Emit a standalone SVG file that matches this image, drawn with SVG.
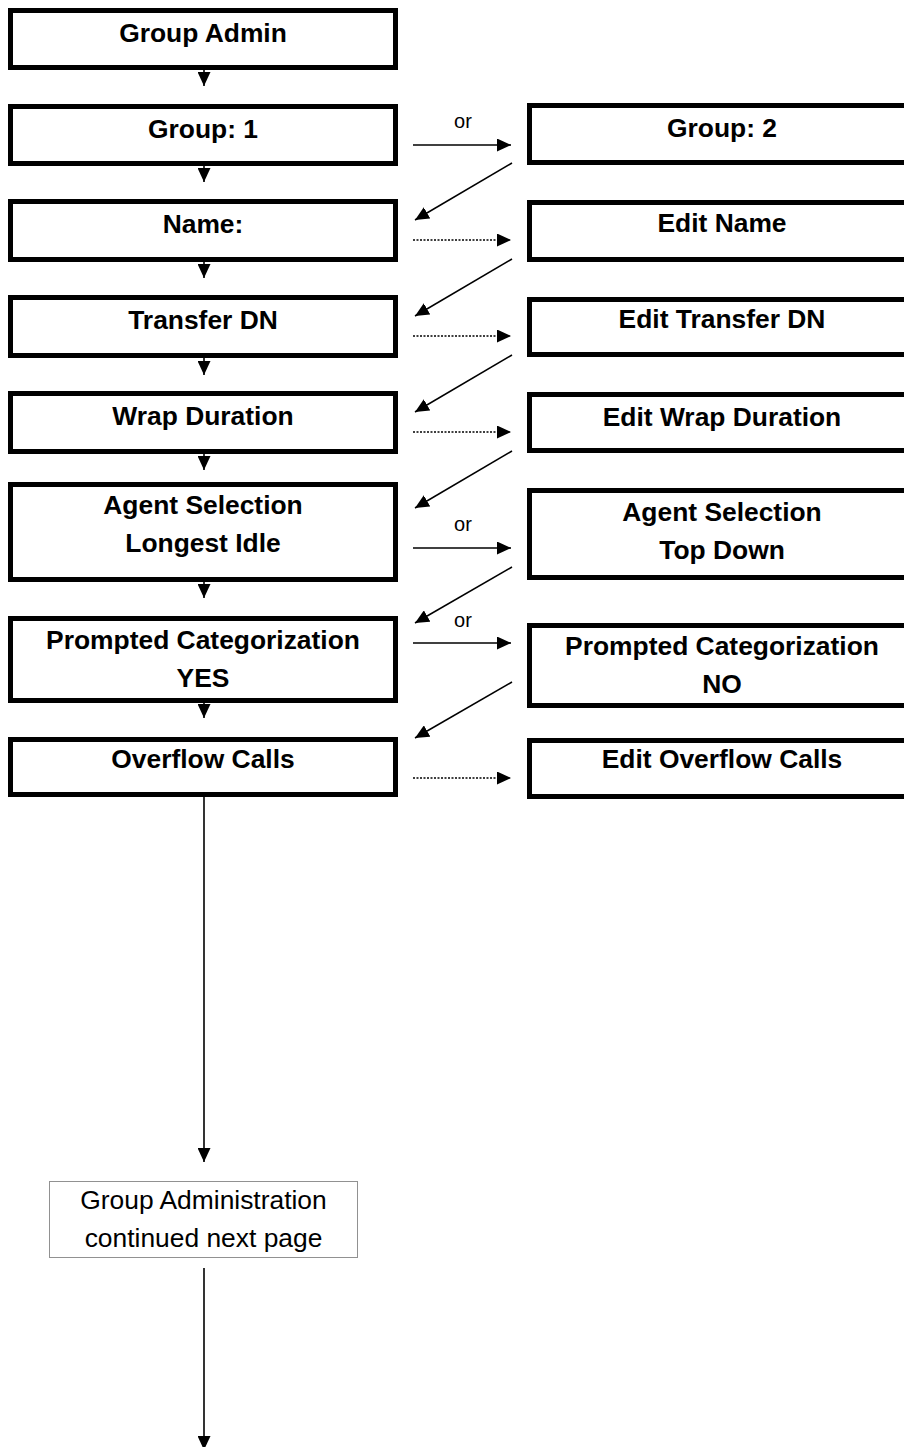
<svg xmlns="http://www.w3.org/2000/svg" width="904" height="1447" viewBox="0 0 904 1447">
<defs>
<style>
.box{fill:#fff;stroke:#000;stroke-width:5}
.t{font-family:"Liberation Sans",Arial,sans-serif;font-weight:bold;font-size:26.4px;text-anchor:middle;fill:#000}
.r{font-family:"Liberation Sans",Arial,sans-serif;font-size:26.4px;text-anchor:middle;fill:#000}
.or{font-family:"Liberation Sans",Arial,sans-serif;font-size:20px;text-anchor:middle;fill:#000}
.c{stroke:#000;stroke-width:1.6;fill:none;marker-end:url(#ah)}
.d{stroke:#000;stroke-width:1.6;fill:none;stroke-dasharray:2 1.5;marker-end:url(#ah)}
.nb{fill:#fff;stroke:#222;stroke-width:1;stroke-dasharray:1 1}
</style>
<marker id="ah" markerUnits="userSpaceOnUse" markerWidth="14" markerHeight="13" refX="14" refY="6.5" orient="auto">
<path d="M0,0 L14,6.5 L0,13 z" fill="#000"/>
</marker>
</defs>
<g id="connectors">
<line class="c" x1="204" y1="70" x2="204" y2="86"/>
<line class="c" x1="204" y1="166" x2="204" y2="182"/>
<line class="c" x1="204" y1="262" x2="204" y2="278"/>
<line class="c" x1="204" y1="358" x2="204" y2="375"/>
<line class="c" x1="204" y1="454" x2="204" y2="470"/>
<line class="c" x1="204" y1="582" x2="204" y2="598"/>
<line class="c" x1="204" y1="703" x2="204" y2="718"/>
<line class="c" x1="204" y1="797" x2="204" y2="1162"/>
<line class="c" x1="204" y1="1268" x2="204" y2="1450"/>
<line class="c" x1="413" y1="145" x2="511" y2="145"/>
<line class="d" x1="413" y1="240" x2="511" y2="240"/>
<line class="d" x1="413" y1="336" x2="511" y2="336"/>
<line class="d" x1="413" y1="432" x2="511" y2="432"/>
<line class="c" x1="413" y1="548" x2="511" y2="548"/>
<line class="c" x1="413" y1="643" x2="511" y2="643"/>
<line class="d" x1="413" y1="778" x2="511" y2="778"/>
<line class="c" x1="512" y1="163" x2="415" y2="220"/>
<line class="c" x1="512" y1="259" x2="415" y2="316"/>
<line class="c" x1="512" y1="355" x2="415" y2="412"/>
<line class="c" x1="512" y1="451" x2="415" y2="508"/>
<line class="c" x1="512" y1="567" x2="415" y2="623"/>
<line class="c" x1="512" y1="682" x2="415" y2="738"/>
<text class="or" x="463" y="128">or</text>
<text class="or" x="463" y="531">or</text>
<text class="or" x="463" y="627">or</text>
</g>
<g id="group-admin"><rect class="box" x="10.5" y="10.5" width="385" height="57"/><text class="t" x="203" y="42">Group Admin</text></g>
<g id="group-1"><rect class="box" x="10.5" y="106.5" width="385" height="57"/><text class="t" x="203" y="137.5">Group: 1</text></g>
<g id="name"><rect class="box" x="10.5" y="201.5" width="385" height="58"/><text class="t" x="203" y="232.5">Name:</text></g>
<g id="transfer-dn"><rect class="box" x="10.5" y="297.5" width="385" height="58"/><text class="t" x="203" y="328.5">Transfer DN</text></g>
<g id="wrap-duration"><rect class="box" x="10.5" y="393.5" width="385" height="58"/><text class="t" x="203" y="425">Wrap Duration</text></g>
<g id="agent-longest"><rect class="box" x="10.5" y="484.5" width="385" height="95"/><text class="t" x="203" y="514">Agent Selection</text><text class="t" x="203" y="552">Longest Idle</text></g>
<g id="prompted-yes"><rect class="box" x="10.5" y="618.5" width="385" height="82"/><text class="t" x="203" y="649">Prompted Categorization</text><text class="t" x="203" y="687">YES</text></g>
<g id="overflow"><rect class="box" x="10.5" y="739.5" width="385" height="55"/><text class="t" x="203" y="768">Overflow Calls</text></g>
<g id="group-2"><rect class="box" x="529.5" y="105.5" width="385" height="57"/><text class="t" x="722" y="137">Group: 2</text></g>
<g id="edit-name"><rect class="box" x="529.5" y="202.5" width="385" height="57"/><text class="t" x="722" y="232">Edit Name</text></g>
<g id="edit-transfer"><rect class="box" x="529.5" y="299.5" width="385" height="55"/><text class="t" x="722" y="328">Edit Transfer DN</text></g>
<g id="edit-wrap"><rect class="box" x="529.5" y="394.5" width="385" height="56"/><text class="t" x="722" y="425.5">Edit Wrap Duration</text></g>
<g id="agent-topdown"><rect class="box" x="529.5" y="490.5" width="385" height="87"/><text class="t" x="722" y="521">Agent Selection</text><text class="t" x="722" y="559">Top Down</text></g>
<g id="prompted-no"><rect class="box" x="529.5" y="625.5" width="385" height="80"/><text class="t" x="722" y="655">Prompted Categorization</text><text class="t" x="722" y="693">NO</text></g>
<g id="edit-overflow"><rect class="box" x="529.5" y="740.5" width="385" height="56"/><text class="t" x="722" y="768">Edit Overflow Calls</text></g>
<g id="continued"><rect class="nb" x="49.5" y="1181.5" width="308" height="76"/><text class="r" x="203.5" y="1209">Group Administration</text><text class="r" x="203.5" y="1247">continued next page</text></g>
</svg>
